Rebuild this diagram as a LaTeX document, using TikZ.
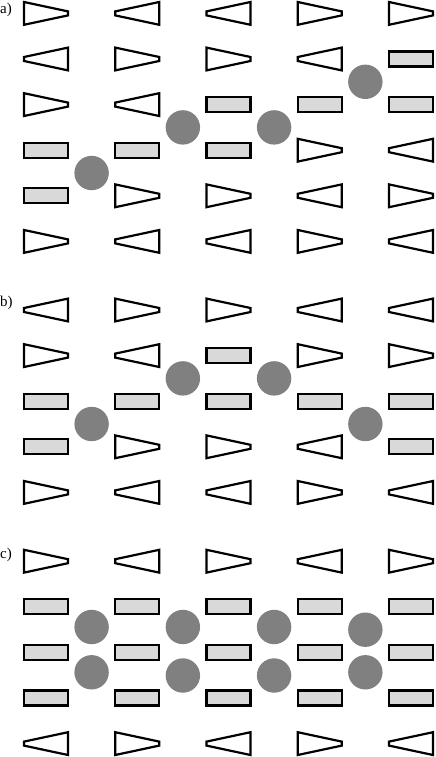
\documentclass[tikz,border=0pt]{standalone}
\usepackage{fontspec}
\setmainfont{Liberation Serif}
\usepackage{tikz}
\definecolor{slabgray}{RGB}{217,217,217}
\definecolor{iongray}{RGB}{128,128,128}

\begin{document}
\begin{tikzpicture}[x=1pt, y=-1pt,
  wedge/.style={draw=black, line width=2.2pt, fill=white},
  slab/.style={draw=black, line width=2.2pt, fill=slabgray},
  ion/.style={circle, fill=iongray, inner sep=0pt, minimum size=34.4pt},
  tag/.style={anchor=base west, inner sep=0pt, font=\fontsize{15}{17}\selectfont},
  wr/.pic={\draw[wedge] (-22,-11.4) -- (22,-2) -- (22,2) -- (-22,11.4) -- cycle;},
  wl/.pic={\draw[wedge] (22,-11.4) -- (-22,-2) -- (-22,2) -- (22,11.4) -- cycle;},
  bar/.pic={\draw[slab] (-22,-7.5) rectangle (22,7.5);}]

\useasboundingbox (0,0) rectangle (436,757);

% panel a : six rows of wedges and bars, ions between the columns
\node[tag] (lab-a) at (0,13.5) {a)};
\foreach \line [count=\r] in
 {{wr,wl,wl,wr,wr},{wl,wr,wr,wl,bar},{wr,wl,bar,bar,bar},
  {bar,bar,bar,wr,wl},{bar,wr,wr,wl,wr},{wr,wl,wl,wr,wl}}
  {
   \foreach \s [count=\c] in \line
    \pic (a-\r-\c) at ({46+91.25*(\c-1)},{13.4+45.6*(\r-1)}) {\s};
  }
\foreach \g/\h in {1/4.5, 2/3.5, 3/3.5, 4/2.5}
  \node[ion] (a-ion-\g) at ({91.6+91.25*(\g-1)},{13.4+45.6*(\h-1)}) {};

% panel b : five rows
\node[tag] (lab-b) at (0,306) {b)};
\foreach \line [count=\r] in
 {{wl,wr,wr,wl,wl},{wr,wl,bar,wr,wr},{bar,bar,bar,bar,bar},
  {bar,wr,wr,wl,bar},{wr,wl,wl,wr,wl}}
  {
   \foreach \s [count=\c] in \line
    \pic (b-\r-\c) at ({46+91.25*(\c-1)},{310+45.6*(\r-1)}) {\s};
  }
\foreach \g/\h in {1/3.5, 2/2.5, 3/2.5, 4/3.5}
  \node[ion] (b-ion-\g) at ({91.6+91.25*(\g-1)},{310+45.6*(\h-1)}) {};

% panel c : three full rows of bars, ions in pairs
\node[tag] (lab-c) at (0,558.5) {c)};
\foreach \line [count=\r] in
 {{wr,wl,wr,wl,wr},{bar,bar,bar,bar,bar},{bar,bar,bar,bar,bar},
  {bar,bar,bar,bar,bar},{wl,wr,wl,wr,wl}}
  {
   \foreach \s [count=\c] in \line
    \pic (c-\r-\c) at ({46+91.25*(\c-1)},{561.2+45.6*(\r-1)}) {\s};
  }
\foreach \g/\up/\dn in {1/627/672.3, 2/627/675.5, 3/627/675.5, 4/629.7/672.3}
  {
   \node[ion] (c-ion-\g-up) at ({91.6+91.25*(\g-1)},\up) {};
   \node[ion] (c-ion-\g-dn) at ({91.6+91.25*(\g-1)},\dn) {};
  }

\end{tikzpicture}
\end{document}
